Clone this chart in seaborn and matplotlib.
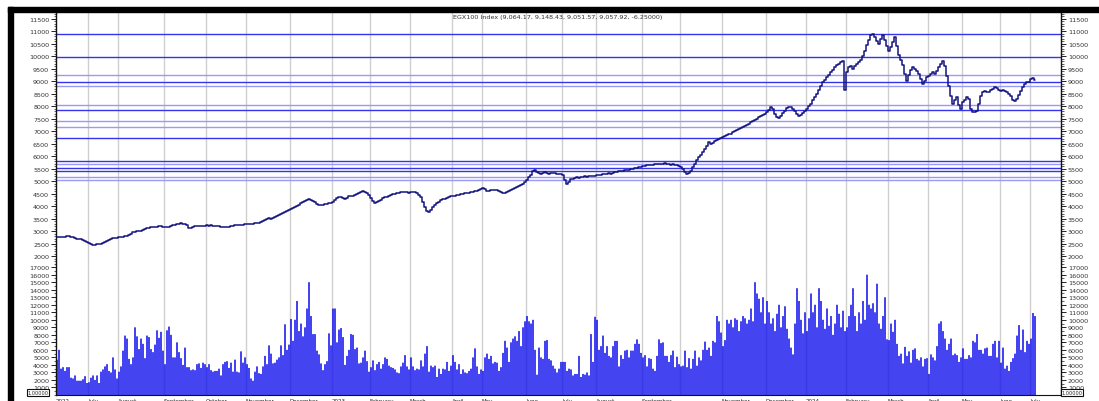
import numpy as np
import matplotlib
matplotlib.use("Agg")
import matplotlib.pyplot as plt
import seaborn as sns
from matplotlib.patches import Rectangle
from matplotlib.ticker import MultipleLocator

# daily closes, one list per month (EGX100)
close_jun22 = [2760, 2770, 2765, 2780, 2775, 2790, 2785, 2770, 2750, 2730, 2700, 2690, 2670, 2630, 2600, 2560]
close_jul22 = [2520, 2480, 2450, 2460, 2470, 2480, 2500, 2540, 2570, 2610, 2640, 2680, 2710, 2720, 2740]
close_aug22 = [2745, 2760, 2770, 2790, 2790, 2830, 2900, 2950, 2970, 2990, 3010, 3020, 3060, 3100, 3130, 3140,
               3150, 3150, 3160, 3170, 3190, 3185, 3170]
close_sep22 = [3160, 3150, 3180, 3210, 3230, 3260, 3280, 3300, 3310, 3300, 3290, 3240, 3120, 3130, 3160, 3200,
               3210, 3220, 3210, 3200, 3220]
close_oct22 = [3230, 3220, 3240, 3220, 3210, 3200, 3190, 3170, 3160, 3150, 3170, 3180, 3200, 3210, 3230, 3240,
               3230, 3250, 3260, 3270]
close_nov22 = [3280, 3290, 3280, 3300, 3320, 3310, 3340, 3380, 3420, 3460, 3490, 3510, 3500, 3540, 3580, 3620,
               3660, 3690, 3720, 3760, 3800, 3840]
close_dec22 = [3880, 3920, 3980, 4010, 4060, 4110, 4150, 4200, 4250, 4300, 4260, 4220, 4150, 4100, 4060, 4040,
               4050, 4070, 4090, 4110, 4130]
close_jan23 = [4180, 4250, 4320, 4380, 4350, 4310, 4290, 4330, 4390, 4420, 4400, 4440, 4480, 4530, 4560, 4600,
               4580, 4520, 4430]
close_feb23 = [4330, 4220, 4120, 4150, 4200, 4260, 4310, 4350, 4380, 4420, 4460, 4490, 4500, 4520, 4540, 4560,
               4550, 4560, 4570, 4540]
close_mar23 = [4560, 4550, 4570, 4530, 4460, 4350, 4150, 3950, 3800, 3760, 3860, 3950, 4050, 4120, 4180, 4230,
               4280, 4300, 4330, 4360, 4390]
close_apr23 = [4400, 4420, 4440, 4460, 4480, 4500, 4520, 4510, 4530, 4550, 4570, 4600, 4620, 4650, 4680]
close_may23 = [4710, 4680, 4620, 4600, 4630, 4650, 4660, 4640, 4600, 4560, 4540, 4520, 4550, 4600, 4650, 4690,
               4730, 4780, 4820, 4860, 4900, 4950]
close_jun23 = [5050, 5150, 5260, 5400, 5450, 5380, 5330, 5300, 5320, 5350, 5330, 5290, 5310, 5340, 5320, 5300,
               5280, 5290]
close_jul23 = [5250, 5050, 4880, 4950, 5080, 5100, 5120, 5150, 5130, 5160, 5180, 5200, 5170, 5190, 5210, 5200,
               5220]
close_aug23 = [5230, 5250, 5240, 5270, 5280, 5300, 5310, 5300, 5330, 5350, 5380, 5400, 5390, 5420, 5440, 5450,
               5460, 5480, 5500, 5520, 5540, 5560, 5570]
close_sep23 = [5590, 5610, 5630, 5650, 5640, 5660, 5680, 5700, 5690, 5670, 5690, 5710, 5700, 5680, 5660, 5670,
               5650, 5630, 5600]
close_oct23 = [5560, 5480, 5380, 5300, 5330, 5420, 5550, 5700, 5830, 5950, 6050, 6180, 6300, 6420, 6550, 6480,
               6520, 6600, 6650, 6700, 6720]
close_nov23 = [6760, 6800, 6850, 6880, 6900, 6950, 7000, 7050, 7080, 7120, 7160, 7200, 7250, 7300, 7350, 7400,
               7450, 7500, 7560, 7600, 7650, 7700]
close_dec23 = [7780, 7850, 7950, 7880, 7700, 7560, 7520, 7600, 7720, 7800, 7920, 7980, 7950, 7880, 7820, 7700,
               7620, 7640, 7720, 7820]
close_jan24 = [7900, 8000, 8100, 8250, 8350, 8500, 8650, 8800, 8950, 9050, 9150, 9250, 9350, 9450, 9550, 9650,
               9700, 9750, 9820, 8650]
close_feb24 = [9350, 9550, 9600, 9500, 9620, 9700, 9780, 9850, 10000, 10200, 10450, 10650, 10850, 10900, 10750,
               10600, 10500, 10700, 10850, 10650, 10400]
close_mar24 = [10200, 10350, 10550, 10750, 10400, 10050, 9850, 9650, 9300, 9000, 9250, 9450, 9560, 9500, 9400,
               9280, 9100, 8900, 9000, 9150]
close_apr24 = [9200, 9300, 9350, 9280, 9400, 9550, 9700, 9800, 9600, 9200, 8800, 8400, 8100, 8250, 8350, 8050,
               7900]
close_may24 = [8150, 8250, 8350, 8300, 7900, 7780, 7750, 7800, 8100, 8400, 8550, 8600, 8580, 8550, 8650, 8700,
               8750, 8720, 8650]
close_jun24 = [8620, 8640, 8600, 8560, 8500, 8400, 8250, 8220, 8300, 8450, 8600, 8750, 8880, 8950, 8980]
close_jul24 = [9080, 9130, 9058]

# daily volume (thousands), one list per month
vol_jun22 = [4.7, 6.0, 3.5, 3.7, 3.2, 3.7, 3.7, 2.3, 2.2, 2.6, 1.9, 1.9, 1.9, 2.1, 2.5, 1.6]
vol_jul22 = [1.7, 2.3, 2.6, 2.0, 2.6, 1.6, 3.1, 3.4, 3.8, 4.1, 3.2, 3.0, 5.0, 3.4, 2.2]
vol_aug22 = [3.1, 3.8, 5.9, 7.9, 7.5, 4.8, 4.1, 5.0, 9.0, 7.8, 6.1, 7.5, 6.8, 4.9, 7.9, 7.7, 6.1, 5.7, 6.7, 8.6,
             7.6, 8.4, 5.9]
vol_sep22 = [4.1, 8.6, 9.1, 8.0, 5.0, 5.0, 7.0, 5.7, 4.9, 4.0, 6.3, 3.7, 3.7, 3.3, 3.4, 3.3, 4.1, 4.2, 3.6, 4.3,
             4.1]
vol_oct22 = [3.7, 4.1, 3.3, 3.1, 3.2, 3.2, 3.5, 2.6, 4.1, 4.4, 4.5, 3.6, 4.3, 3.1, 4.7, 3.1, 3.0, 5.8, 4.3, 5.0]
vol_nov22 = [4.1, 3.6, 2.2, 1.9, 3.1, 3.8, 2.9, 2.8, 3.8, 5.2, 4.1, 6.6, 5.5, 4.2, 4.3, 4.7, 5.0, 6.6, 5.3, 9.4,
             6.0, 6.7]
vol_dec22 = [10.1, 7.2, 10.0, 12.5, 8.5, 9.5, 7.8, 9.0, 11.5, 15.0, 10.5, 8.1, 8.1, 5.9, 5.4, 4.2, 3.3, 4.1, 4.5,
             8.2, 6.6]
vol_jan23 = [11.5, 11.5, 7.0, 8.7, 8.9, 7.7, 4.0, 5.2, 6.0, 8.1, 8.0, 6.1, 6.3, 4.2, 4.3, 5.0, 5.9, 4.5, 3.1]
vol_feb23 = [3.7, 4.6, 3.3, 4.1, 4.4, 3.5, 4.1, 5.0, 4.8, 3.9, 3.7, 3.6, 3.4, 3.0, 2.9, 3.8, 4.3, 5.3, 3.8, 3.4]
vol_mar23 = [5.0, 3.8, 3.3, 3.5, 3.4, 4.6, 3.8, 5.5, 6.5, 3.1, 3.9, 3.7, 3.9, 2.4, 3.5, 2.8, 3.5, 3.4, 4.4, 3.2,
             3.9]
vol_apr23 = [5.3, 4.4, 3.4, 4.1, 2.8, 3.4, 3.0, 2.9, 3.2, 3.5, 5.0, 6.2, 3.8, 2.8, 3.4]
vol_may23 = [3.2, 5.0, 5.5, 4.8, 5.2, 4.2, 4.4, 4.3, 3.2, 3.7, 5.6, 7.2, 6.3, 4.4, 7.0, 7.5, 7.8, 7.2, 8.5, 6.5,
             9.0, 9.8]
vol_jun23 = [10.5, 9.8, 9.5, 10.0, 6.0, 2.7, 6.3, 5.0, 4.8, 7.2, 7.3, 4.8, 4.6, 3.9, 3.5, 3.0, 3.5, 4.4]
vol_jul23 = [4.4, 4.4, 3.2, 3.5, 3.4, 2.6, 2.8, 2.8, 5.2, 2.4, 2.8, 2.7, 3.0, 2.6, 8.1, 4.4, 10.4]
vol_aug23 = [10.0, 6.0, 6.5, 7.9, 5.6, 6.5, 5.2, 5.0, 6.5, 7.2, 7.2, 3.8, 5.3, 4.8, 5.9, 6.0, 5.0, 5.9, 5.9, 6.8,
             7.4, 6.8, 5.6]
vol_sep23 = [5.0, 5.3, 3.8, 4.9, 4.8, 3.5, 3.2, 5.2, 7.4, 6.9, 7.0, 5.2, 5.2, 4.4, 5.3, 5.9, 3.7, 5.1, 4.1]
vol_oct23 = [3.8, 3.9, 5.9, 3.7, 4.9, 3.5, 4.8, 5.9, 3.9, 5.0, 4.6, 6.0, 7.1, 6.0, 6.3, 5.2, 7.2, 7.0, 10.5, 9.8,
             8.3]
vol_nov23 = [6.5, 7.3, 10.0, 9.5, 10.0, 9.0, 10.2, 10.0, 8.5, 9.8, 10.5, 10.2, 9.5, 10.0, 11.5, 9.8, 15.0, 13.5,
             12.8, 11.0, 13.0, 9.5]
vol_dec23 = [12.5, 11.0, 9.5, 10.2, 8.5, 10.8, 12.0, 9.0, 10.5, 11.8, 8.8, 7.5, 6.3, 5.4, 9.5, 14.2, 12.5, 10.0,
             8.2, 11.0]
vol_jan24 = [8.5, 10.2, 13.5, 11.0, 12.0, 9.0, 14.2, 12.5, 10.0, 8.8, 11.5, 9.2, 10.5, 8.0, 9.5, 12.0, 10.8, 9.0,
             11.2, 8.5]
vol_feb24 = [9.0, 10.5, 12.0, 14.2, 10.5, 8.5, 11.0, 9.5, 12.5, 10.0, 16.0, 12.0, 11.5, 12.2, 11.0, 14.8, 9.5,
             8.8, 10.5, 13.0, 7.4]
vol_mar24 = [7.3, 9.5, 8.4, 10.0, 6.8, 5.2, 5.5, 4.2, 6.4, 5.2, 5.8, 4.3, 6.0, 6.2, 4.8, 4.6, 5.0, 3.8, 4.8, 4.9]
vol_apr24 = [2.8, 5.4, 5.0, 4.6, 6.5, 9.5, 9.8, 8.5, 7.5, 6.0, 6.8, 7.5, 5.3, 5.5, 5.3, 4.4, 5.0]
vol_may24 = [6.2, 4.8, 4.8, 5.3, 5.0, 7.2, 7.0, 8.1, 6.0, 6.0, 5.5, 6.2, 6.3, 5.2, 5.2, 6.8, 7.2, 5.0, 7.2]
vol_jun24 = [4.3, 6.3, 3.5, 3.9, 3.2, 4.4, 4.9, 5.5, 7.9, 9.3, 6.0, 8.7, 5.7, 7.2, 6.8]
vol_jul24 = [7.5, 10.9, 10.5]

month_labels = ["2022", "July", "August", "September", "October", "November", "December",
                "2023", "February", "March", "April", "May", "June", "July", "August", "September",
                "", "November", "December", "2024", "February", "March", "April", "May", "June", "July"]

# horizontal support / resistance levels
levels = [10903, 9958, 9237, 8968, 8808, 8047, 7847, 7406, 7178, 6714,
          5793, 5696, 5512, 5392, 5164, 5056]

title = "EGX100 Index (9,064.17, 9,148.43, 9,051.57, 9,057.92, -6.25000)"

# ------------------------------------------------------------------
closes = [close_jun22, close_jul22, close_aug22, close_sep22, close_oct22, close_nov22, close_dec22,
          close_jan23, close_feb23, close_mar23, close_apr23, close_may23, close_jun23, close_jul23,
          close_aug23, close_sep23, close_oct23, close_nov23, close_dec23, close_jan24, close_feb24,
          close_mar24, close_apr24, close_may24, close_jun24, close_jul24]
vols = [vol_jun22, vol_jul22, vol_aug22, vol_sep22, vol_oct22, vol_nov22, vol_dec22,
        vol_jan23, vol_feb23, vol_mar23, vol_apr23, vol_may23, vol_jun23, vol_jul23,
        vol_aug23, vol_sep23, vol_oct23, vol_nov23, vol_dec23, vol_jan24, vol_feb24,
        vol_mar24, vol_apr24, vol_may24, vol_jun24, vol_jul24]

price = np.concatenate(closes)
volume = np.concatenate(vols) * 1000
day = np.arange(len(price))
month_start = np.cumsum([0] + [len(m) for m in closes[:-1]])

sns.set_style("white")
plt.rcParams["font.family"] = ["DejaVu Sans"]

W, H = 1099, 402
fig = plt.figure(figsize=(W / 100, H / 100), dpi=100)

x0, x1 = 56, 1061
ax_p = fig.add_axes([x0 / W, 1 - 265 / H, (x1 - x0) / W, (265 - 14) / H])
ax_v = fig.add_axes([x0 / W, 1 - 396 / H, (x1 - x0) / W, (396 - 265) / H])

light_levels = {9237, 8808, 8047, 7406, 7178, 5696, 5164, 5056}

for ax in (ax_p, ax_v):
    for m in month_start[1:]:
        ax.axvline(m - 0.5, color="#cfcfcf", lw=1.0, zorder=0)
    ax.set_xlim(-0.5, 502)
    ax.tick_params(axis="y", which="both", direction="out", left=True, right=True,
                   labelleft=True, labelright=True, labelsize=4.6, labelcolor="#333333",
                   colors="#222222", pad=1.5)
    ax.tick_params(axis="y", which="major", length=3.5, width=0.7)
    ax.tick_params(axis="y", which="minor", length=1.8, width=0.5)
    for s in ("top", "bottom"):
        ax.spines[s].set_visible(False)
    for s in ("left", "right"):
        ax.spines[s].set_color("#111111")
        ax.spines[s].set_linewidth(1.0)

# price panel
for lv in levels:
    light = lv in light_levels
    ax_p.axhline(lv, color="#9a9af6" if light else "#3434ec", lw=1.0, zorder=1)

sns.lineplot(x=day, y=price, ax=ax_p, color="#14147e", lw=1.1, estimator=None,
             drawstyle="steps-mid", zorder=3)
ax_p.set_ylim(1680, 11730)
ax_p.yaxis.set_major_locator(MultipleLocator(500))
ax_p.yaxis.set_minor_locator(MultipleLocator(100))
ax_p.set_xticks([])
ax_p.set_xlabel("")
ax_p.set_ylabel("")

# volume panel: thin bars with a gap, like the terminal chart
sns.barplot(x=day, y=volume, ax=ax_v, native_scale=True, color="#1010ee", saturation=1,
            width=0.78, errorbar=None, linewidth=0, edgecolor="none", zorder=2)
for bar in ax_v.patches:
    bar.set_snap(False)
    bar.set_antialiased(True)
ax_v.set_ylim(0, 17420)
ax_v.set_xlim(-0.5, 502)
ax_v.set_yticks(list(range(1000, 17001, 1000)))
ax_v.yaxis.set_minor_locator(MultipleLocator(500))
ax_v.set_xticks(month_start - 0.5)
ax_v.set_xticklabels(month_labels, ha="left", fontsize=4.0, color="#333333")
ax_v.tick_params(axis="x", length=2.0, width=0.6, pad=0.2, colors="#222222")
ax_v.spines["bottom"].set_visible(True)
ax_v.spines["bottom"].set_color("#111111")
ax_v.spines["bottom"].set_linewidth(0.8)
ax_v.set_xlabel("")
ax_v.set_ylabel("")

fig.text(558 / W, 1 - 17 / H, title, ha="center", va="center", fontsize=4.6, color="#333333")

# little scale boxes under both value axes
box = dict(boxstyle="square,pad=0.15", fc="white", ec="#111111", lw=0.8)
fig.text(38 / W, 1 - 393.5 / H, "1.00000", ha="center", va="center", fontsize=3.6, bbox=box)
fig.text(1072 / W, 1 - 393.5 / H, "1.00000", ha="center", va="center", fontsize=3.6, bbox=box)

# black frame at the top and left
fig.add_artist(Rectangle((8 / W, 1 - 13 / H), 1 - 8 / W, 5 / H, transform=fig.transFigure,
                         color="black", zorder=10))
fig.add_artist(Rectangle((8 / W, 0), 5 / W, 1 - 8 / H, transform=fig.transFigure,
                         color="black", zorder=10))

fig.savefig("out.png", dpi=100)
